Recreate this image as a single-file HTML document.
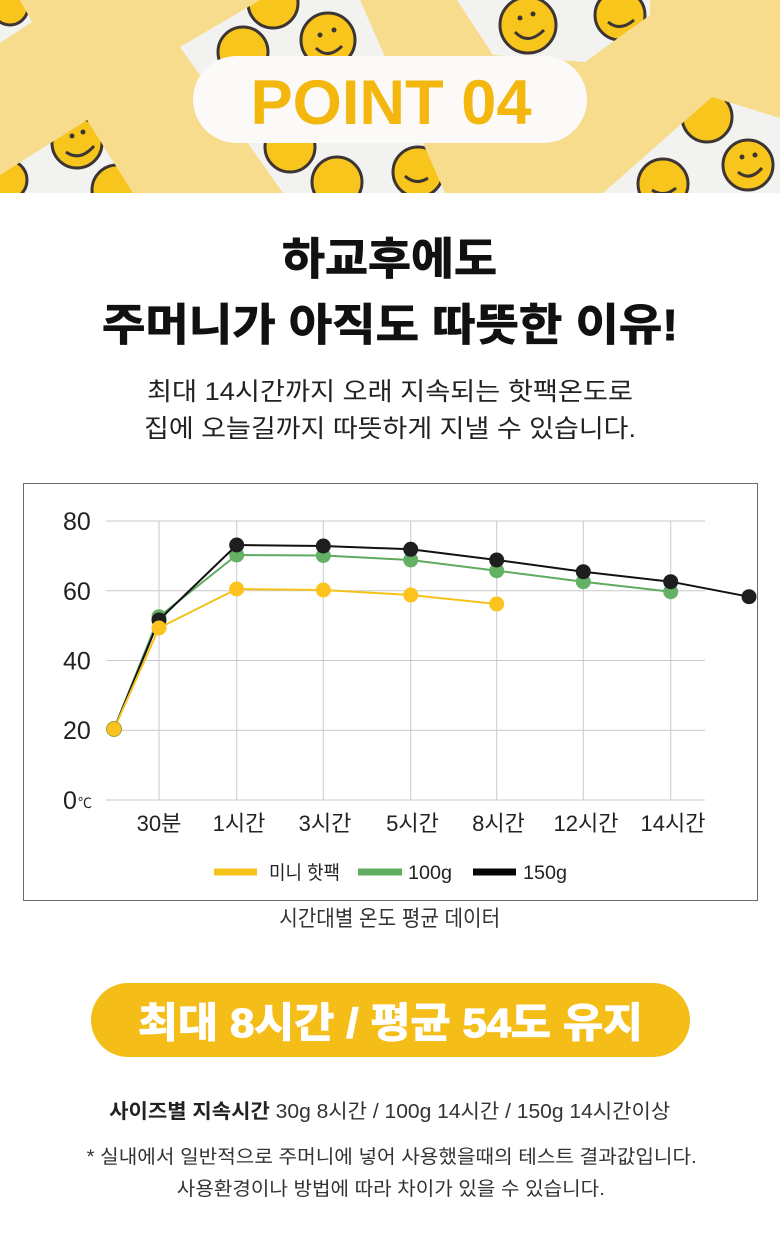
<!DOCTYPE html>
<html>
<head>
<meta charset="utf-8">
<style>
  html,body{margin:0;padding:0;background:#fff;}
  body{width:780px;height:1234px;overflow:hidden;position:relative;}
  svg{position:absolute;left:0;top:0;display:block;}
</style>
</head>
<body>
<svg width="780" height="1234" viewBox="0 0 780 1234" xmlns="http://www.w3.org/2000/svg">
  <defs>
    <clipPath id="ban"><rect x="0" y="0" width="780" height="193"/></clipPath>
    <clipPath id="pkC"><polygon points="180,47 260,0 360,0 445,193 283,193"/></clipPath>
    <clipPath id="pkTR"><polygon points="457,0 493,55 585,62 650,15 650,0"/></clipPath>
    <clipPath id="pkTL"><polygon points="0,0 20,0 32,22 0,43"/></clipPath>
    <clipPath id="pkBL"><polygon points="0,175 87,120 133,193 0,193"/></clipPath>
    <clipPath id="pkBR"><polygon points="603,193 712,97 780,118 780,193"/></clipPath>
  </defs>

  <!-- Banner -->
  <g clip-path="url(#ban)">
    <rect x="0" y="0" width="780" height="193" fill="#f7dc8d"/>
    <polygon points="180,47 260,0 360,0 445,193 283,193" fill="#f2f2f0"/>
    <polygon points="457,0 493,55 585,62 650,15 650,0" fill="#f2f2f0"/>
    <polygon points="0,0 20,0 32,22 0,43" fill="#f2f2f0"/>
    <polygon points="0,175 87,120 133,193 0,193" fill="#f2f2f0"/>
    <polygon points="603,193 712,97 780,118 780,193" fill="#f2f2f0"/>

    <g clip-path="url(#pkC)" stroke="#3c3533" stroke-width="3" fill="#f8c51d">
      <circle cx="273" cy="3" r="25"/>
      <circle cx="243" cy="52" r="25"/>
      <circle cx="328" cy="40" r="27"/>
      <circle cx="290" cy="147" r="25"/>
      <circle cx="337" cy="182" r="25"/>
      <circle cx="418" cy="172" r="25"/>
      <path d="M316,48 Q328,60 342,46" fill="none"/>
      <circle cx="320" cy="35" r="2.5" fill="#3c3533" stroke="none"/>
      <circle cx="334" cy="30" r="2.5" fill="#3c3533" stroke="none"/>
      <path d="M405,176 Q416,186 428,178" fill="none"/>
    </g>
    <g clip-path="url(#pkTR)" stroke="#3c3533" stroke-width="3" fill="#f8c51d">
      <circle cx="528" cy="25" r="28"/>
      <circle cx="620" cy="15" r="25"/>
      <path d="M515,32 Q528,46 544,30" fill="none"/>
      <circle cx="520" cy="18" r="2.5" fill="#3c3533" stroke="none"/>
      <circle cx="533" cy="14" r="2.5" fill="#3c3533" stroke="none"/>
      <path d="M608,22 Q620,32 634,20" fill="none"/>
    </g>
    <g clip-path="url(#pkTL)" stroke="#3c3533" stroke-width="3" fill="#f8c51d">
      <circle cx="10" cy="7" r="18"/>
    </g>
    <g clip-path="url(#pkBL)" stroke="#3c3533" stroke-width="3" fill="#f8c51d">
      <circle cx="77" cy="143" r="25"/>
      <circle cx="117" cy="190" r="25"/>
      <circle cx="7" cy="180" r="20"/>
      <path d="M66,152 Q80,162 94,146" fill="none"/>
      <circle cx="72" cy="136" r="2.5" fill="#3c3533" stroke="none"/>
      <circle cx="83" cy="132" r="2.5" fill="#3c3533" stroke="none"/>
    </g>
    <g clip-path="url(#pkBR)" stroke="#3c3533" stroke-width="3" fill="#f8c51d">
      <circle cx="707" cy="117" r="25"/>
      <circle cx="663" cy="184" r="25"/>
      <circle cx="748" cy="165" r="25"/>
      <path d="M738,172 Q750,182 762,168" fill="none"/>
      <circle cx="742" cy="157" r="2.5" fill="#3c3533" stroke="none"/>
      <circle cx="755" cy="155" r="2.5" fill="#3c3533" stroke="none"/>
      <path d="M652,190 Q664,198 676,188" fill="none"/>
    </g>

    <rect x="193" y="56" width="394" height="87" rx="43.5" fill="#fbfaf8"/>
    <text x="391" y="124" text-anchor="middle" font-family="'Liberation Sans','Noto Sans CJK KR',sans-serif" font-weight="bold" font-size="63" fill="#f3b70e" textLength="281" lengthAdjust="spacingAndGlyphs">POINT 04</text>
  </g>

  <!-- Title -->
  <g font-family="'Liberation Sans','Noto Sans CJK KR',sans-serif" fill="#111" text-anchor="middle">
    <text x="389.5" y="274" font-size="44" font-weight="bold" stroke="#111" stroke-width="0.9" textLength="215" lengthAdjust="spacingAndGlyphs">하교후에도</text>
    <text x="390" y="340" font-size="44" font-weight="bold" stroke="#111" stroke-width="0.9" textLength="576" lengthAdjust="spacingAndGlyphs">주머니가 아직도 따뜻한 이유!</text>
    <text x="390" y="400" font-size="25" fill="#222" textLength="486" lengthAdjust="spacingAndGlyphs">최대 14시간까지 오래 지속되는 핫팩온도로</text>
    <text x="390" y="437" font-size="25" fill="#222" textLength="492" lengthAdjust="spacingAndGlyphs">집에 오늘길까지 따뜻하게 지낼 수 있습니다.</text>
  </g>

  <!-- Chart box -->
  <rect x="23.5" y="483.5" width="734" height="417" fill="#fff" stroke="#6b6b6b" stroke-width="1"/>

  <g stroke="#c9c9c9" stroke-width="1">
    <line x1="106" y1="521" x2="705" y2="521"/>
    <line x1="106" y1="590.8" x2="705" y2="590.8"/>
    <line x1="106" y1="660.5" x2="705" y2="660.5"/>
    <line x1="106" y1="730.3" x2="705" y2="730.3"/>
    <line x1="106" y1="800" x2="705" y2="800"/>
    <line x1="159" y1="521" x2="159" y2="800"/>
    <line x1="236.7" y1="521" x2="236.7" y2="800"/>
    <line x1="323.3" y1="521" x2="323.3" y2="800"/>
    <line x1="410.7" y1="521" x2="410.7" y2="800"/>
    <line x1="496.7" y1="521" x2="496.7" y2="800"/>
    <line x1="583.3" y1="521" x2="583.3" y2="800"/>
    <line x1="670.7" y1="521" x2="670.7" y2="800"/>
  </g>

  <g font-family="'Liberation Sans','Noto Sans CJK KR',sans-serif" font-size="25" fill="#222">
    <text x="63" y="530">80</text>
    <text x="63" y="600">60</text>
    <text x="63" y="669.5">40</text>
    <text x="63" y="739">20</text>
    <text x="63" y="809">0</text>
    <text x="78" y="808" font-size="14">℃</text>
  </g>

  <g font-family="'Liberation Sans','Noto Sans CJK KR',sans-serif" font-size="22" fill="#222" text-anchor="middle">
    <text x="159" y="831">30분</text>
    <text x="239" y="831">1시간</text>
    <text x="325" y="831">3시간</text>
    <text x="412.5" y="831">5시간</text>
    <text x="498.5" y="831">8시간</text>
    <text x="586" y="831">12시간</text>
    <text x="673" y="831">14시간</text>
  </g>

  <polyline points="114,729 159,616.7 236.7,555 323.3,555.5 410.7,560 496.7,570.7 583.3,581.7 670.7,591.7" fill="none" stroke="#5fab5f" stroke-width="2"/>
  <g fill="#64b064">
    <circle cx="159" cy="616.7" r="7.5"/>
    <circle cx="236.7" cy="555" r="7.5"/>
    <circle cx="323.3" cy="555.5" r="7.5"/>
    <circle cx="410.7" cy="560" r="7.5"/>
    <circle cx="496.7" cy="570.7" r="7.5"/>
    <circle cx="583.3" cy="581.7" r="7.5"/>
    <circle cx="670.7" cy="591.7" r="7.5"/>
  </g>
  <polyline points="114,729 159,620 236.7,545 323.3,546 410.7,549.3 496.7,560 583.3,571.7 670.7,581.7 749,596.7" fill="none" stroke="#111" stroke-width="2"/>
  <g fill="#1e1e1e">
    <circle cx="159" cy="620" r="7.5"/>
    <circle cx="236.7" cy="545" r="7.5"/>
    <circle cx="323.3" cy="546" r="7.5"/>
    <circle cx="410.7" cy="549.3" r="7.5"/>
    <circle cx="496.7" cy="560" r="7.5"/>
    <circle cx="583.3" cy="571.7" r="7.5"/>
    <circle cx="670.7" cy="581.7" r="7.5"/>
    <circle cx="749" cy="596.7" r="7.5"/>
  </g>
  <polyline points="114,729 159,628 236.7,589 323.3,590 410.7,595 496.7,604" fill="none" stroke="#f5c21b" stroke-width="2"/>
  <g fill="#fcc31e">
    <circle cx="114" cy="729" r="7.5" stroke="#9aa23a" stroke-width="1"/>
    <circle cx="159" cy="628" r="7.5"/>
    <circle cx="236.7" cy="589" r="7.5"/>
    <circle cx="323.3" cy="590" r="7.5"/>
    <circle cx="410.7" cy="595" r="7.5"/>
    <circle cx="496.7" cy="604" r="7.5"/>
  </g>

  <rect x="214" y="868.5" width="43" height="7" fill="#f5c21b"/>
  <rect x="358" y="868.5" width="44" height="7" fill="#5fab5f"/>
  <rect x="473" y="868.5" width="43" height="7" fill="#050505"/>
  <g font-family="'Liberation Sans','Noto Sans CJK KR',sans-serif" font-size="19" fill="#222">
    <text x="269" y="879" textLength="71" lengthAdjust="spacingAndGlyphs">미니 핫팩</text>
    <text x="408" y="879" textLength="44" lengthAdjust="spacingAndGlyphs">100g</text>
    <text x="523" y="879" textLength="44" lengthAdjust="spacingAndGlyphs">150g</text>
  </g>

  <text x="389.7" y="926" text-anchor="middle" font-family="'Liberation Sans','Noto Sans CJK KR',sans-serif" font-size="22" fill="#333" textLength="221" lengthAdjust="spacingAndGlyphs">시간대별 온도 평균 데이터</text>

  <rect x="91" y="983" width="599" height="74" rx="37" fill="#f5bd17"/>
  <text x="390.5" y="1037" text-anchor="middle" font-family="'Liberation Sans','Noto Sans CJK KR',sans-serif" font-weight="bold" font-size="41" fill="#fff" stroke="#fff" stroke-width="1.2" textLength="505" lengthAdjust="spacingAndGlyphs">최대 8시간 / 평균 54도 유지</text>

  <g font-family="'Liberation Sans','Noto Sans CJK KR',sans-serif" fill="#333" text-anchor="middle">
    <text x="389.7" y="1118" font-size="20" textLength="561" lengthAdjust="spacingAndGlyphs"><tspan font-weight="bold" fill="#222">사이즈별 지속시간</tspan> 30g 8시간 / 100g 14시간 / 150g 14시간이상</text>
    <text x="391.7" y="1163" font-size="19" textLength="610" lengthAdjust="spacingAndGlyphs">* 실내에서 일반적으로 주머니에 넣어 사용했을때의 테스트 결과값입니다.</text>
    <text x="390.8" y="1195" font-size="19" textLength="428" lengthAdjust="spacingAndGlyphs">사용환경이나 방법에 따라 차이가 있을 수 있습니다.</text>
  </g>
</svg>
</body>
</html>
